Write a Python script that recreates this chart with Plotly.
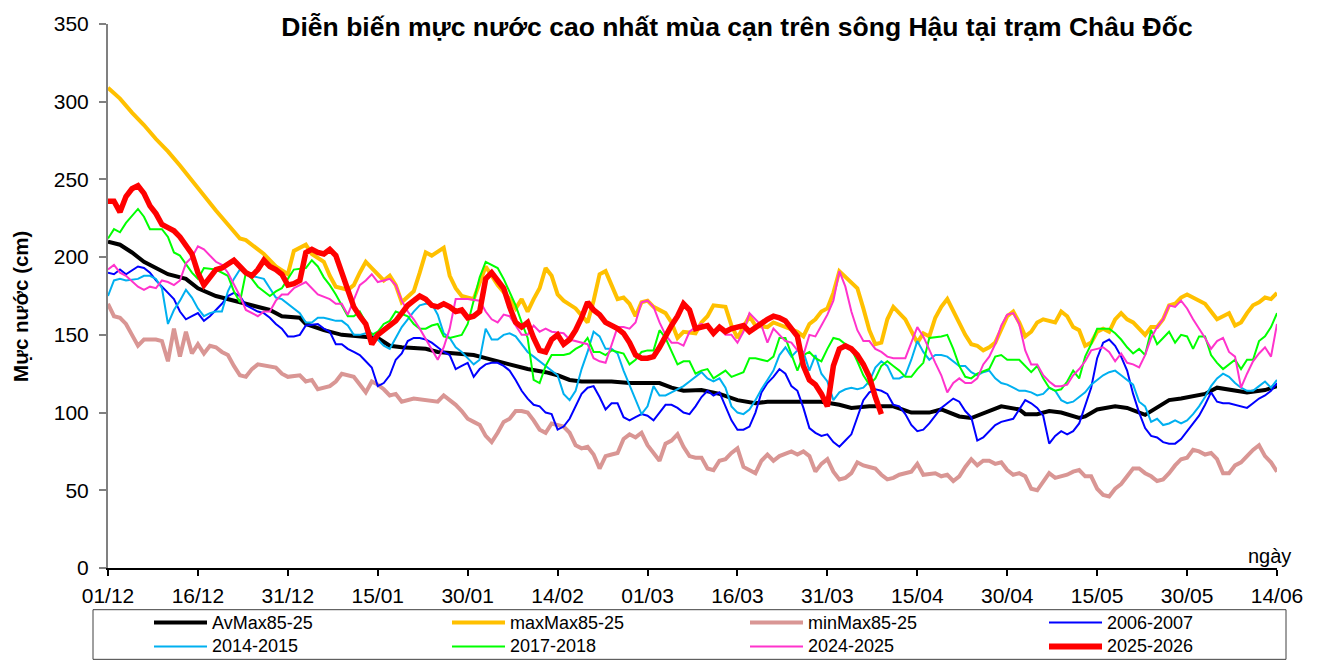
"""Dien bien muc nuoc cao nhat mua can - song Hau, tram Chau Doc."""

import pandas as pd
import plotly.graph_objects as go

START = pd.Timestamp("2025-12-01")
N_DAYS = 195
TICK_STEP = 15

TITLE = "Diễn biến mực nước cao nhất mùa cạn trên sông Hậu tại trạm Châu Đốc"
Y_TITLE = "Mực nước (cm)"
X_NOTE = "ngày"

# (day after 01/12, water level cm)
AVMAX = [(0, 210), (2, 208), (4, 203), (6, 197), (8, 193), (10, 189), (13, 186), (15, 180), (18, 175), (21, 172),
         (24, 169), (27, 166), (29, 162), (32, 161), (33, 157), (36, 153), (39, 150), (42, 149), (45, 148), (47, 143),
         (49, 142), (53, 141), (55, 139), (58, 138), (61, 137), (63, 135), (65, 133), (68, 129.5), (70, 128), (73, 126),
         (75, 124), (77, 121), (79, 120), (82, 120), (84, 120), (87, 119), (90, 119), (92, 119), (94, 116), (96, 114),
         (99, 114.5), (102, 112), (105, 108), (108, 106), (110, 107), (113, 107), (116, 107.5), (119, 107), (122, 105),
         (124, 103), (127, 104), (131, 104), (134, 100), (137, 100), (139, 102), (142, 97.5), (144, 96.5), (146, 99.5),
         (149, 104), (152, 102), (153, 99), (155, 99), (157, 101), (159, 100), (162, 96.5), (163, 97.5), (165, 102),
         (168, 104), (170, 103), (173, 98.5), (175, 103), (177, 108), (179, 109), (182, 111), (183, 112), (185, 116),
         (188, 114.5), (190, 113), (193, 114.5), (195, 117)]

MAXMAX = [(0, 309), (2, 302), (4, 293), (6, 285), (8, 276), (10, 268), (12, 259), (14, 249), (16, 239), (18, 230),
          (20, 221), (22, 212), (23, 211), (24, 208), (26, 202), (28, 194), (30, 189), (31, 204), (33, 208), (34, 202),
          (36, 197), (37, 188), (38, 181), (40, 179), (41, 182), (42, 190), (43, 197), (44, 193), (46, 185), (47, 188),
          (48, 182), (49, 171), (51, 178), (52, 190), (53, 203), (54, 201), (56, 206), (57, 188), (58, 180), (59, 175),
          (61, 173), (63, 194), (65, 182), (67, 173), (68, 167), (69, 173), (70, 165), (71, 173), (72, 180), (73, 193),
          (74, 188), (75, 176), (76, 172), (78, 167), (79, 162), (80, 158), (81, 172), (82, 189), (83, 191), (84, 182),
          (85, 173), (86, 174), (87, 170), (88, 162), (89, 171), (90, 172), (91, 168), (93, 164), (94, 158), (95, 148),
          (96, 152), (98, 151), (99, 158), (100, 162), (101, 169), (103, 168), (104, 156), (105, 148), (107, 162),
          (108, 156), (110, 155), (111, 158), (113, 155), (114, 153), (115, 152), (116, 149), (117, 157), (118, 160),
          (119, 165), (120, 167), (121, 177), (122, 191), (124, 184), (125, 180), (126, 167), (127, 153), (128, 144),
          (129, 145), (130, 160), (131, 168), (133, 160), (134, 152), (135, 145), (136, 151), (137, 149), (138, 161),
          (139, 168), (140, 173), (141, 165), (143, 150), (144, 144), (145, 143), (146, 140), (147, 142), (148, 145),
          (149, 154), (150, 162), (151, 165), (152, 158), (153, 149), (154, 152), (155, 158), (156, 160), (158, 158),
          (159, 165), (160, 162), (161, 155), (162, 153), (163, 143), (164, 145), (165, 152), (166, 154), (167, 152),
          (168, 160), (169, 164), (170, 160), (171, 158), (172, 154), (173, 150), (174, 155), (175, 155), (176, 160),
          (177, 169), (178, 170), (179, 174), (180, 176), (181, 174), (182, 172), (183, 170), (184, 165), (185, 160),
          (186, 162), (187, 164), (188, 156), (189, 158), (190, 164), (191, 169), (192, 171), (193, 174), (194, 173),
          (195, 177)]

MINMAX = [(0, 170), (1, 162), (2, 161), (3, 157), (4, 150), (5, 143), (6, 147), (8, 147), (9, 146), (10, 133),
          (11, 154), (12, 136), (13, 152), (14, 138), (15, 144), (16, 138), (17, 143), (18, 142), (19, 139), (20, 137),
          (21, 130), (22, 124), (23, 123), (24, 128), (25, 131), (27, 130), (28, 129), (29, 125), (30, 123), (32, 124),
          (33, 120), (34, 121), (35, 115), (37, 117), (38, 120), (39, 125), (40, 124), (41, 123), (42, 118), (43, 113),
          (44, 120), (45, 118), (46, 115), (47, 111), (48, 112), (49, 107), (51, 109), (53, 108), (54, 107), (55, 107),
          (56, 111), (57, 108), (58, 105), (59, 101), (60, 96), (61, 94), (62, 92), (63, 85), (64, 81), (65, 87),
          (66, 94), (67, 96), (68, 101), (69, 101), (70, 100), (71, 95), (72, 89), (73, 87), (74, 93), (76, 91),
          (77, 87), (78, 79), (79, 77), (80, 78), (81, 73), (82, 64), (83, 72), (84, 73), (85, 74), (86, 83), (87, 86),
          (88, 84), (89, 87), (90, 79), (91, 74), (92, 69), (93, 80), (94, 82), (95, 86), (96, 78), (97, 72), (98, 71),
          (99, 71), (100, 64), (101, 63), (102, 69), (103, 70), (104, 74), (105, 77), (106, 65), (108, 61), (109, 69),
          (110, 73), (111, 69), (112, 72), (114, 75), (115, 73), (116, 75), (117, 72), (118, 62), (119, 67), (120, 70),
          (121, 62), (122, 57), (123, 58), (124, 61), (125, 68), (126, 66), (127, 65), (128, 64), (129, 60), (130, 57),
          (131, 58), (132, 60), (134, 62), (135, 67), (136, 60), (138, 61), (139, 59), (140, 60), (141, 56), (142, 59),
          (143, 65), (144, 70), (145, 66), (146, 69), (147, 69), (148, 67), (149, 68), (150, 63), (151, 60), (152, 61),
          (153, 59), (154, 51), (155, 50), (156, 56), (157, 61), (158, 58), (160, 60), (161, 62), (162, 63), (163, 59),
          (164, 59), (165, 51), (166, 47), (167, 46), (168, 51), (169, 54), (170, 59), (171, 64), (172, 64), (173, 61),
          (174, 59), (175, 56), (176, 57), (177, 61), (178, 66), (179, 70), (180, 71), (181, 76), (182, 75), (183, 73),
          (184, 74), (185, 70), (186, 61), (187, 61), (188, 66), (189, 68), (190, 72), (191, 76), (192, 79), (193, 72),
          (194, 68), (195, 62)]

Y2006 = [(0, 190), (1, 189), (2, 192), (3, 189), (5, 194), (6, 193), (7, 190), (8, 185), (9, 181), (10, 177),
         (11, 173), (12, 165), (13, 160), (14, 162), (15, 164), (16, 159), (17, 162), (18, 166), (19, 170), (20, 175),
         (21, 177), (22, 175), (23, 169), (24, 167), (25, 165), (26, 164), (27, 161), (28, 157), (29, 154), (30, 149),
         (31, 149), (32, 150), (33, 156), (35, 157), (36, 154), (37, 152), (38, 144), (39, 144), (40, 141), (41, 139),
         (42, 137), (43, 133), (44, 129), (45, 117), (46, 119), (47, 124), (48, 134), (49, 138), (50, 146), (51, 148),
         (52, 148), (53, 147), (54, 145), (55, 142), (56, 139), (57, 137), (58, 128), (59, 130), (60, 132), (61, 123),
         (62, 128), (63, 131), (64, 132), (65, 132), (66, 130), (67, 127), (68, 121), (69, 114), (70, 109), (71, 105),
         (72, 104), (73, 100), (74, 99), (75, 89), (76, 91), (77, 96), (78, 104), (79, 112), (80, 116), (81, 117),
         (82, 110), (83, 102), (84, 106), (85, 106), (86, 97), (87, 95), (88, 97), (89, 99), (90, 98), (91, 95),
         (92, 100), (93, 105), (94, 105), (95, 103), (96, 100), (97, 99), (98, 104), (99, 110), (100, 114), (101, 111),
         (102, 113), (103, 104), (104, 95), (105, 89), (106, 89), (107, 91), (108, 100), (109, 113), (110, 119),
         (111, 123), (112, 128), (113, 125), (114, 117), (115, 114), (116, 103), (117, 90), (118, 87), (119, 85),
         (120, 86), (121, 81), (122, 78), (123, 82), (124, 86), (125, 97), (126, 108), (127, 113), (128, 115),
         (129, 114), (130, 112), (131, 105), (132, 104), (133, 99), (134, 92), (135, 88), (136, 89), (137, 93),
         (138, 98), (139, 103), (140, 106), (141, 109), (142, 107), (143, 101), (144, 97), (145, 82), (146, 84),
         (147, 88), (148, 92), (149, 94), (150, 95), (151, 96), (152, 102), (153, 108), (154, 106), (155, 103),
         (156, 98), (157, 80), (158, 85), (159, 88), (160, 86), (161, 88), (162, 93), (163, 105), (164, 116),
         (165, 135), (166, 145), (167, 147), (168, 143), (169, 136), (170, 127), (171, 112), (172, 100), (173, 90),
         (174, 85), (175, 84), (176, 81), (177, 80), (178, 80), (179, 83), (180, 88), (181, 93), (182, 98), (183, 105),
         (184, 113), (185, 107), (186, 106), (187, 106), (188, 105), (189, 104), (190, 103), (191, 106), (192, 109),
         (193, 111), (194, 114), (195, 119)]

Y2014 = [(0, 175), (1, 185), (2, 186), (3, 185), (5, 186), (6, 188), (7, 188), (8, 186), (9, 180), (10, 157),
         (11, 166), (12, 172), (13, 179), (14, 174), (15, 167), (16, 162), (17, 164), (18, 165), (19, 165), (20, 178),
         (21, 186), (22, 192), (23, 190), (24, 188), (25, 187), (26, 186), (27, 180), (28, 174), (29, 173), (30, 170),
         (31, 167), (32, 164), (33, 158), (34, 158), (35, 161), (36, 161), (37, 160), (38, 159), (39, 159), (40, 156),
         (41, 150), (42, 150), (43, 151), (44, 151), (45, 147), (46, 143), (47, 141), (48, 148), (49, 155), (50, 160),
         (51, 165), (52, 169), (53, 170), (54, 170), (55, 163), (56, 151), (57, 148), (58, 142), (59, 139), (60, 135),
         (61, 131), (62, 134), (63, 154), (64, 147), (65, 147), (66, 150), (67, 151), (68, 149), (69, 144), (70, 139),
         (71, 136), (72, 133), (73, 130), (74, 127), (75, 124), (76, 112), (77, 108), (78, 114), (79, 128), (80, 139),
         (81, 152), (82, 149), (83, 141), (84, 141), (85, 138), (86, 127), (87, 118), (88, 109), (89, 99), (90, 104),
         (91, 117), (92, 111), (93, 111), (94, 113), (95, 115), (96, 117), (97, 120), (98, 123), (99, 126), (100, 122),
         (101, 120), (102, 122), (103, 116), (104, 104), (105, 100), (106, 99), (107, 102), (108, 108), (109, 115),
         (110, 121), (111, 127), (112, 137), (113, 142), (114, 136), (115, 140), (116, 139), (117, 127), (118, 137),
         (119, 125), (120, 120), (121, 108), (122, 113), (123, 115), (124, 116), (125, 115), (126, 116), (127, 120),
         (128, 129), (129, 133), (130, 130), (131, 122), (132, 122), (133, 124), (134, 134), (135, 146), (136, 139),
         (137, 134), (138, 137), (139, 137), (140, 136), (141, 133), (142, 130), (143, 130), (144, 126), (145, 124),
         (146, 126), (147, 127), (148, 122), (149, 119), (150, 118), (151, 116), (152, 114), (153, 114), (154, 113),
         (155, 111), (156, 112), (157, 116), (158, 114), (159, 108), (160, 106), (161, 107), (162, 110), (163, 113),
         (164, 118), (165, 121), (166, 124), (167, 126), (168, 127), (169, 124), (170, 121), (171, 118), (172, 107),
         (173, 104), (174, 94), (175, 96), (176, 92), (177, 93), (178, 95), (179, 93), (180, 95), (181, 99), (182, 104),
         (183, 110), (184, 117), (185, 122), (186, 125), (187, 123), (188, 119), (189, 116), (190, 114), (191, 114),
         (192, 117), (193, 120), (194, 116), (195, 121)]

Y2017 = [(0, 212), (1, 218), (2, 216), (3, 222), (5, 231), (6, 226), (7, 218), (9, 218), (10, 213), (11, 203),
         (12, 201), (14, 190), (15, 186), (16, 193), (18, 192), (19, 190), (20, 188), (21, 178), (22, 171), (23, 190),
         (24, 186), (25, 181), (27, 175), (28, 178), (29, 180), (30, 186), (31, 192), (33, 193), (34, 198), (35, 194),
         (36, 187), (37, 182), (38, 176), (40, 162), (41, 162), (42, 165), (43, 158), (44, 150), (45, 152), (46, 157),
         (47, 159), (48, 165), (50, 162), (51, 157), (52, 154), (53, 154), (54, 156), (55, 157), (56, 149), (57, 148),
         (58, 149), (59, 150), (60, 157), (61, 173), (62, 187), (63, 197), (65, 193), (66, 186), (67, 177), (68, 169),
         (69, 158), (70, 148), (71, 121), (72, 119), (73, 130), (74, 137), (76, 137), (77, 138), (78, 141), (79, 143),
         (80, 148), (81, 139), (82, 139), (83, 137), (84, 140), (86, 138), (87, 131), (88, 134), (89, 139), (90, 140),
         (91, 140), (92, 153), (93, 148), (94, 139), (95, 131), (96, 133), (97, 133), (98, 125), (99, 127), (100, 128),
         (101, 122), (103, 127), (104, 123), (106, 126), (107, 135), (108, 135), (110, 133), (111, 136), (112, 148),
         (113, 148), (114, 138), (115, 127), (116, 137), (117, 139), (118, 135), (119, 133), (120, 141), (121, 148),
         (122, 147), (124, 141), (125, 133), (126, 124), (127, 118), (128, 122), (129, 130), (130, 133), (131, 130),
         (132, 127), (133, 123), (134, 123), (135, 128), (136, 132), (137, 148), (139, 149), (140, 150), (141, 141),
         (142, 130), (143, 123), (144, 122), (145, 125), (147, 128), (148, 136), (149, 137), (150, 134), (152, 134),
         (153, 130), (154, 126), (155, 130), (156, 122), (157, 116), (158, 114), (159, 115), (160, 120), (161, 127),
         (162, 122), (163, 136), (164, 144), (165, 154), (167, 154), (168, 151), (169, 147), (170, 142), (171, 138),
         (172, 141), (173, 137), (174, 153), (175, 144), (176, 148), (177, 152), (178, 145), (179, 150), (180, 149),
         (181, 141), (182, 149), (183, 149), (184, 137), (185, 132), (186, 128), (188, 134), (189, 128), (190, 134),
         (191, 134), (192, 146), (193, 149), (194, 155), (195, 164)]

Y2024 = [(0, 192), (1, 195), (2, 190), (3, 188), (5, 181), (6, 179), (7, 181), (8, 180), (9, 185), (10, 184),
         (11, 182), (12, 185), (13, 196), (14, 200), (15, 207), (16, 205), (18, 197), (19, 195), (20, 190), (22, 175),
         (23, 166), (25, 162), (26, 165), (27, 165), (28, 172), (29, 176), (30, 176), (31, 180), (33, 184), (34, 180),
         (35, 176), (37, 173), (38, 170), (39, 170), (40, 163), (42, 182), (43, 185), (44, 189), (45, 184), (46, 185),
         (47, 186), (48, 182), (49, 172), (50, 165), (51, 160), (52, 154), (53, 147), (54, 140), (55, 134), (56, 142),
         (57, 154), (58, 173), (60, 173), (62, 172), (63, 165), (64, 160), (65, 158), (66, 163), (67, 162), (68, 156),
         (69, 150), (70, 150), (71, 156), (72, 152), (73, 154), (74, 152), (76, 151), (77, 147), (78, 146), (79, 145),
         (80, 144), (81, 135), (82, 133), (83, 132), (85, 155), (86, 155), (87, 154), (88, 158), (89, 171), (90, 172),
         (91, 168), (92, 158), (93, 150), (94, 145), (95, 145), (96, 143), (97, 152), (98, 155), (99, 157), (101, 152),
         (102, 154), (103, 150), (104, 150), (105, 145), (106, 152), (107, 164), (109, 156), (110, 145), (111, 154),
         (113, 146), (114, 145), (115, 140), (116, 137), (117, 150), (118, 149), (119, 156), (120, 163), (121, 172),
         (122, 191), (123, 181), (124, 165), (125, 153), (126, 146), (127, 146), (128, 141), (129, 139), (130, 136),
         (131, 135), (132, 135), (133, 135), (134, 145), (135, 155), (136, 149), (137, 140), (138, 132), (139, 124),
         (140, 113), (141, 119), (142, 122), (143, 119), (144, 119), (145, 122), (146, 131), (147, 136), (148, 144),
         (149, 156), (150, 163), (151, 164), (152, 157), (153, 140), (154, 131), (155, 131), (156, 124), (157, 120),
         (158, 117), (159, 117), (160, 118), (161, 124), (162, 128), (163, 133), (164, 140), (165, 141), (166, 142),
         (167, 139), (168, 133), (169, 138), (170, 132), (171, 131), (172, 129), (173, 137), (174, 148), (175, 155),
         (176, 160), (177, 169), (178, 168), (179, 172), (180, 167), (181, 160), (182, 154), (183, 148), (184, 141),
         (185, 146), (186, 148), (187, 139), (188, 136), (189, 116), (190, 125), (191, 133), (192, 138), (193, 142),
         (194, 136), (195, 157)]

Y2025 = [(0, 236), (1, 236), (2, 229), (3, 239), (4, 244), (5, 246), (6, 241), (7, 233), (8, 228), (9, 221),
         (10, 219), (11, 217), (12, 213), (13, 208), (14, 202), (15, 190), (16, 182), (17, 187), (18, 192), (19, 193),
         (20, 196), (21, 198), (22, 194), (23, 190), (24, 188), (25, 192), (26, 198), (27, 194), (28, 192), (29, 189),
         (30, 182), (31, 183), (32, 185), (33, 203), (34, 205), (35, 203), (36, 202), (37, 205), (38, 201), (39, 190),
         (40, 180), (41, 168), (42, 162), (43, 157), (44, 144), (45, 150), (46, 153), (47, 156), (48, 159), (49, 164),
         (50, 169), (51, 172), (52, 175), (53, 173), (54, 169), (55, 168), (56, 170), (57, 168), (58, 165), (59, 166),
         (60, 161), (61, 162), (62, 165), (63, 186), (64, 190), (65, 185), (66, 180), (67, 168), (68, 158), (69, 155),
         (70, 158), (71, 148), (72, 140), (73, 139), (74, 147), (75, 150), (76, 144), (77, 147), (78, 153), (79, 161),
         (80, 171), (81, 166), (82, 163), (83, 158), (84, 156), (85, 154), (86, 151), (87, 145), (88, 137), (89, 135),
         (90, 135), (91, 136), (92, 142), (93, 150), (94, 156), (95, 162), (96, 170), (97, 166), (98, 154), (99, 155),
         (100, 156), (101, 151), (102, 155), (103, 152), (104, 154), (105, 155), (106, 156), (107, 152), (108, 155),
         (109, 158), (110, 160), (111, 162), (112, 161), (113, 159), (114, 154), (115, 149), (116, 130), (117, 121),
         (118, 118), (119, 112), (120, 104), (121, 130), (122, 141), (123, 143), (124, 141), (125, 137), (126, 131),
         (127, 123), (128, 110), (129, 99)]

# name, data, colour, line width
SERIES = [
    ("AvMax85-25", AVMAX, "#000000", 4),
    ("maxMax85-25", MAXMAX, "#FFC000", 4),
    ("minMax85-25", MINMAX, "#D99694", 4),
    ("2006-2007", Y2006, "#0000FF", 2),
    ("2014-2015", Y2014, "#00B0F0", 2),
    ("2017-2018", Y2017, "#00FF00", 2),
    ("2024-2025", Y2024, "#FF33CC", 2),
    ("2025-2026", Y2025, "#FF0000", 5.5),
]

FONT = "Liberation Sans, Arial, sans-serif"

# plot area in pixels (1325 x 661 page)
L, R, T, B = 108, 1277, 20, 568


def px_x(px):
    return (px - L) / (R - L)


def px_y(py):
    return (B - py) / (B - T)


fig = go.Figure()
for name, data, color, width in SERIES:
    days, cm = zip(*data)
    fig.add_trace(
        go.Scatter(
            x=[START + pd.Timedelta(days=d) for d in days],
            y=cm,
            mode="lines",
            name=name,
            line={"color": color, "width": width},
            showlegend=False,
        )
    )

tick_dates = [START + pd.Timedelta(days=d) for d in range(0, N_DAYS + 1, TICK_STEP)]

fig.update_layout(
    width=1325,
    height=661,
    margin={"l": L, "r": 1325 - R, "t": T, "b": 661 - B},
    paper_bgcolor="white",
    plot_bgcolor="white",
    font={"family": FONT, "color": "black"},
    title={
        "text": f"<b>{TITLE}</b>",
        "x": 737 / 1325,
        "xanchor": "center",
        "y": 1 - 27 / 661,
        "yanchor": "middle",
        "font": {"size": 26.5, "family": FONT},
    },
    xaxis={
        "range": [START, START + pd.Timedelta(days=N_DAYS)],
        "tickvals": tick_dates,
        "tickformat": "%d/%m",
        "ticks": "outside",
        "ticklen": 6,
        "tickwidth": 1.5,
        "tickcolor": "black",
        "showline": True,
        "linecolor": "black",
        "linewidth": 2,
        "showgrid": False,
        "zeroline": False,
        "tickfont": {"size": 21},
        "ticklabelstandoff": 2,
    },
    yaxis={
        "range": [0, 350],
        "dtick": 50,
        "ticks": "outside",
        "ticklen": 7,
        "tickwidth": 1.5,
        "tickcolor": "#808080",
        "showline": True,
        "linecolor": "#808080",
        "linewidth": 2,
        "showgrid": False,
        "zeroline": False,
        "tickfont": {"size": 21},
        "ticklabelstandoff": 6,
    },
)

# axis captions
fig.add_annotation(
    text=f"<b>{Y_TITLE}</b>", textangle=-90, x=px_x(21), y=px_y(305), xref="paper", yref="paper",
    xanchor="center", yanchor="middle", showarrow=False, font={"size": 20.5},
)
fig.add_annotation(
    text=X_NOTE, x=px_x(1269), y=px_y(556), xref="paper", yref="paper",
    xanchor="center", yanchor="middle", showarrow=False, font={"size": 20},
)

# legend box, four columns by two rows
fig.add_shape(
    type="rect", xref="paper", yref="paper",
    x0=px_x(93), x1=px_x(1286), y0=px_y(610), y1=px_y(660),
    line={"color": "#404040", "width": 1}, fillcolor="white",
)
col_x = [154, 452, 750, 1049]
row_y = [623, 647]
for i, (name, _, color, width) in enumerate(SERIES):
    cx, cy = col_x[i % 4], row_y[i // 4]
    fig.add_shape(
        type="line", xref="paper", yref="paper",
        x0=px_x(cx), x1=px_x(cx + 53), y0=px_y(cy), y1=px_y(cy),
        line={"color": color, "width": width if width < 5 else 6},
    )
    fig.add_annotation(
        text=name, x=px_x(cx + 56), y=px_y(cy), xref="paper", yref="paper",
        xanchor="left", yanchor="middle", showarrow=False, font={"size": 18},
    )

# page has a default 8px body margin; drop it so the figure fills the window
fig.write_html(
    "out.html",
    config={"displayModeBar": False},
    post_script="document.body.style.margin = '0';",
)
